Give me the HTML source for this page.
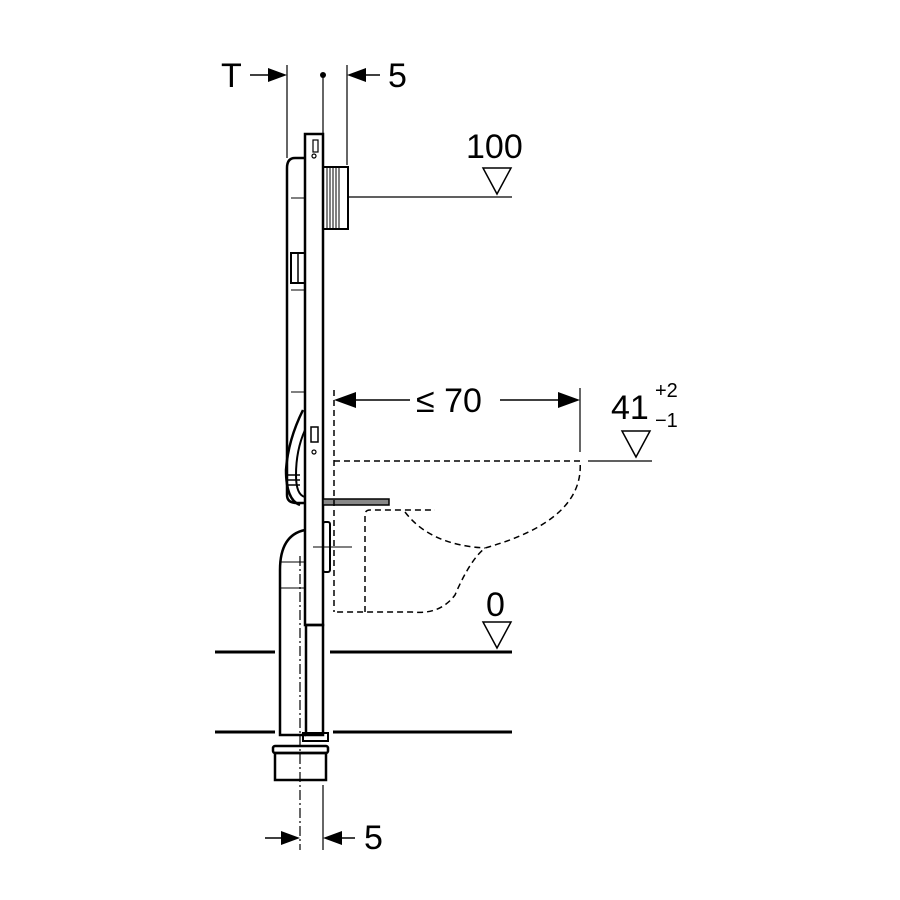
<!DOCTYPE html>
<html><head><meta charset="utf-8"><style>html,body{margin:0;padding:0;background:#fff}svg{display:block}</style></head>
<body>
<svg width="900" height="900" viewBox="0 0 900 900" xmlns="http://www.w3.org/2000/svg" font-family="Liberation Sans, sans-serif">
<g stroke="#000" fill="none">
<line x1="287" y1="65" x2="287" y2="158" stroke-width="1.2"/>
<line x1="323" y1="75" x2="323" y2="134" stroke-width="1.2"/>
<line x1="347" y1="65" x2="347" y2="165" stroke-width="1.2"/>
<line x1="250" y1="75" x2="272" y2="75" stroke-width="1.5"/>
<line x1="362" y1="75" x2="380" y2="75" stroke-width="1.5"/>
<rect x="305" y="134" width="18" height="491" stroke-width="2.5" fill="#fff"/>
<rect x="306" y="625" width="17" height="110" stroke-width="2.5"/>
<rect x="303" y="733" width="25" height="8" stroke-width="2"/>
<rect x="311" y="427" width="7" height="15" stroke-width="1.5"/>
<circle cx="314" cy="156" r="2" stroke-width="1.2"/>
<circle cx="314" cy="452" r="2" stroke-width="1.2"/>
<rect x="313" y="140" width="5" height="12" stroke-width="1.2"/>
<path d="M305 158 H295 Q287 158 287 168 V495 Q287 503 297 503 H305" stroke-width="2.5"/>
<line x1="291" y1="198" x2="305" y2="198" stroke-width="1"/>
<line x1="291" y1="290" x2="305" y2="290" stroke-width="1"/>
<line x1="291" y1="392" x2="305" y2="392" stroke-width="1"/>
<rect x="291" y="253" width="14" height="30" stroke-width="2"/>
<line x1="298" y1="253" x2="298" y2="283" stroke-width="1.5"/>
<path d="M303 410 Q288 440 286 470 Q286 500 300 505" stroke-width="2.5"/>
<path d="M305 430 Q296 450 296 475 Q296 495 305 497" stroke-width="2"/>
<line x1="287" y1="475" x2="300" y2="475" stroke-width="1.5"/>
<line x1="287" y1="480" x2="300" y2="480" stroke-width="1.5"/>
<line x1="287" y1="485" x2="300" y2="485" stroke-width="1.5"/>
<rect x="323" y="167" width="25" height="62" stroke-width="2"/>
<g stroke-width="1"><line x1="327" y1="167" x2="327" y2="229"/><line x1="330" y1="167" x2="330" y2="229"/><line x1="333" y1="167" x2="333" y2="229"/><line x1="336" y1="167" x2="336" y2="229"/><line x1="339" y1="167" x2="339" y2="229"/></g>
<line x1="348" y1="197" x2="512" y2="197" stroke-width="1.2"/>
<path d="M305 530 Q280 535 280 570 V735 H306" stroke-width="2.5"/>
<line x1="281" y1="562" x2="305" y2="562" stroke-width="1"/>
<line x1="281" y1="588" x2="305" y2="588" stroke-width="1"/>
<line x1="300" y1="556" x2="300" y2="850" stroke-width="1.2" stroke-dasharray="10,3,2,3"/>
<line x1="323" y1="785" x2="323" y2="850" stroke-width="1.2"/>
<rect x="273" y="746" width="55" height="7" rx="2" stroke-width="2.5"/>
<rect x="275" y="753" width="51" height="27" stroke-width="2.5"/>
<g stroke-width="3"><line x1="215" y1="652" x2="275" y2="652"/><line x1="330" y1="652" x2="512" y2="652"/><line x1="215" y1="732" x2="275" y2="732"/><line x1="333" y1="732" x2="512" y2="732"/></g>
<rect x="323" y="499" width="66" height="6" stroke-width="1.5" fill="#888"/>
<rect x="323" y="522" width="7" height="50" rx="2" stroke-width="2"/>
<line x1="313" y1="547" x2="352" y2="547" stroke-width="1"/>
<g stroke-width="1.5" stroke-dasharray="6,4">
<line x1="334" y1="390" x2="334" y2="612"/>
<path d="M334 461 H580 Q585 520 485 548 Q470 560 455 595 Q440 615 412 612 H334"/>
<path d="M365 612 V515 Q365 510 370 510 H435"/>
<path d="M405 512 Q430 545 485 548"/>
</g>
<line x1="580" y1="388" x2="580" y2="452" stroke-width="1.2"/>
<line x1="352" y1="400" x2="410" y2="400" stroke-width="1.5"/>
<line x1="500" y1="400" x2="562" y2="400" stroke-width="1.5"/>
<line x1="588" y1="461" x2="652" y2="461" stroke-width="1.2"/>
<path d="M483 168 H511 L497 194 Z" stroke-width="1.5"/>
<path d="M622 431 H650 L636 457 Z" stroke-width="1.5"/>
<path d="M483 622 H511 L497 648 Z" stroke-width="1.5"/>
<line x1="265" y1="838" x2="285" y2="838" stroke-width="1.5"/>
<line x1="338" y1="838" x2="355" y2="838" stroke-width="1.5"/>
</g>
<g fill="#000">
<circle cx="323" cy="75" r="3"/>
<path d="M287 75 L268 68 V82 Z"/>
<path d="M347 75 L366 68 V82 Z"/>
<path d="M334 400 L356 392 V408 Z"/>
<path d="M580 400 L558 392 V408 Z"/>
<path d="M300 838 L281 831 V845 Z"/>
<path d="M323 838 L342 831 V845 Z"/>
</g>
<g font-size="34" fill="#000">
<text x="221" y="87">T</text>
<text x="388" y="87">5</text>
<text x="466" y="158">100</text>
<text x="416" y="412">≤ 70</text>
<text x="611" y="419">41</text>
<text x="486" y="616">0</text>
<text x="364" y="849">5</text>
</g>
<g font-size="20" fill="#000">
<text x="655" y="397">+2</text>
<text x="655" y="427">−1</text>
</g>
</svg>
</body></html>
